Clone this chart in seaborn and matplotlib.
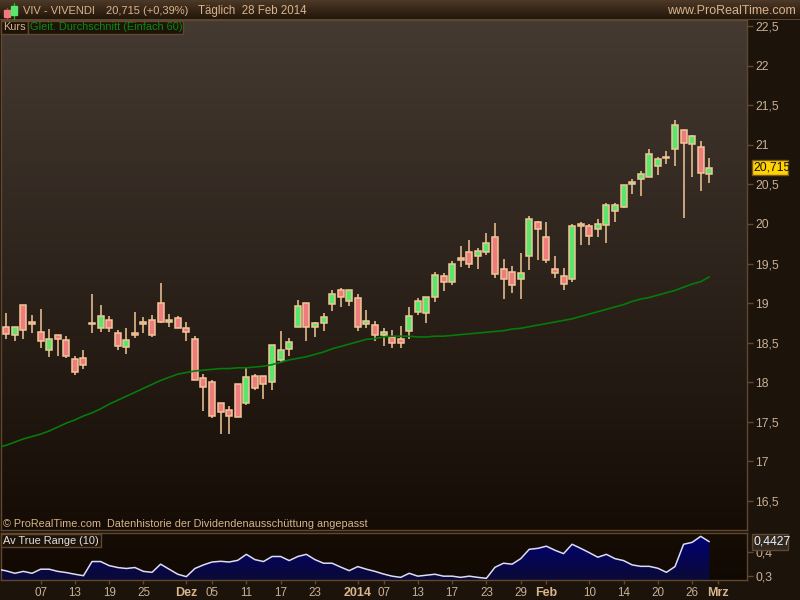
import numpy as np
import pandas as pd
import matplotlib
matplotlib.use('Agg')
import matplotlib.pyplot as plt
import seaborn as sns
from matplotlib.colors import LinearSegmentedColormap
from matplotlib.patches import Rectangle

# prices, one entry per trading day
opens = [18.70, 18.59, 18.98, 18.76, 18.63, 18.40, 18.60, 18.53, 18.29, 18.30,
         18.75, 18.69, 18.79, 18.62, 18.44, 18.62, 18.76, 18.79, 19.00, 18.76,
         18.81, 18.68, 18.55, 18.05, 18.00, 17.74, 17.64, 17.98, 17.74, 18.07,
         18.08, 18.00, 18.28, 18.42, 18.70, 19.00, 18.70, 18.75, 18.99, 19.17,
         19.03, 19.06, 18.74, 18.72, 18.59, 18.57, 18.54, 18.64, 18.88, 18.87,
         19.07, 19.34, 19.27, 19.57, 19.65, 19.59, 19.65, 19.83, 19.43, 19.39,
         19.31, 19.59, 20.02, 19.84, 19.43, 19.34, 19.30, 20.00, 19.98, 19.94,
         19.99, 20.16, 20.22, 20.50, 20.57, 20.60, 20.73, 20.85, 20.95, 21.19,
         21.01, 20.98, 20.63]
highs = [18.87, 18.70, 18.98, 18.85, 18.92, 18.67, 18.60, 18.58, 18.33, 18.41,
         19.11, 18.98, 18.84, 18.66, 18.68, 18.89, 18.82, 18.85, 19.25, 18.86,
         18.84, 18.76, 18.58, 18.10, 18.03, 17.74, 17.70, 17.98, 18.18, 18.10,
         18.08, 18.47, 18.65, 18.56, 19.04, 19.00, 18.76, 18.87, 19.16, 19.19,
         19.16, 19.12, 18.91, 18.77, 18.69, 18.66, 18.71, 18.95, 19.06, 19.07,
         19.39, 19.38, 19.53, 19.72, 19.80, 19.70, 19.88, 20.01, 19.56, 19.47,
         19.63, 20.10, 20.04, 20.02, 19.60, 19.44, 20.00, 20.02, 20.00, 20.06,
         20.26, 20.26, 20.49, 20.57, 20.67, 20.95, 20.85, 20.92, 21.32, 21.19,
         21.13, 21.05, 20.83]
lows = [18.54, 18.52, 18.54, 18.62, 18.43, 18.32, 18.33, 18.30, 18.09, 18.17,
        18.62, 18.63, 18.63, 18.41, 18.36, 18.56, 18.62, 18.57, 18.75, 18.70,
        18.69, 18.52, 18.03, 17.63, 17.54, 17.34, 17.34, 17.56, 17.71, 17.90,
        17.79, 17.90, 18.24, 18.33, 18.70, 18.52, 18.57, 18.65, 18.90, 18.95,
        18.96, 18.65, 18.68, 18.52, 18.46, 18.43, 18.43, 18.54, 18.85, 18.75,
        19.01, 19.15, 19.23, 19.46, 19.44, 19.43, 19.61, 19.32, 19.05, 19.13,
        19.05, 19.42, 19.54, 19.51, 19.32, 19.16, 19.27, 19.73, 19.73, 19.84,
        19.76, 20.03, 20.20, 20.38, 20.35, 20.60, 20.62, 20.76, 20.73, 20.07,
        20.60, 20.42, 20.52]
closes = [18.61, 18.70, 18.66, 18.73, 18.52, 18.55, 18.55, 18.33, 18.13, 18.22,
          18.73, 18.84, 18.68, 18.46, 18.53, 18.60, 18.74, 18.59, 18.76, 18.79,
          18.69, 18.63, 18.03, 17.94, 17.57, 17.62, 17.57, 17.56, 18.06, 17.92,
          17.97, 18.47, 18.41, 18.51, 18.96, 18.70, 18.75, 18.82, 19.12, 19.07,
          19.16, 18.70, 18.77, 18.59, 18.63, 18.50, 18.49, 18.84, 19.02, 19.07,
          19.36, 19.27, 19.50, 19.55, 19.50, 19.66, 19.76, 19.37, 19.31, 19.23,
          19.38, 20.06, 19.94, 19.54, 19.38, 19.24, 19.97, 19.98, 19.85, 20.00,
          20.24, 20.24, 20.49, 20.53, 20.63, 20.89, 20.82, 20.83, 21.25, 21.02,
          21.11, 20.64, 20.715]

# 60 day moving average, starts one bar left of the first candle
ma_60 = [17.17, 17.20, 17.24, 17.28, 17.31, 17.34, 17.38, 17.43, 17.48, 17.52,
         17.57, 17.61, 17.66, 17.72, 17.77, 17.82, 17.87, 17.92, 17.97, 18.02,
         18.06, 18.10, 18.12, 18.14, 18.15, 18.16, 18.17, 18.17, 18.18, 18.18,
         18.19, 18.20, 18.22, 18.25, 18.28, 18.30, 18.32, 18.35, 18.38, 18.42,
         18.45, 18.48, 18.51, 18.54, 18.55, 18.57, 18.58, 18.58, 18.58, 18.57,
         18.57, 18.58, 18.58, 18.59, 18.60, 18.61, 18.62, 18.63, 18.64, 18.65,
         18.67, 18.68, 18.70, 18.72, 18.74, 18.76, 18.78, 18.80, 18.83, 18.86,
         18.89, 18.92, 18.95, 18.98, 19.02, 19.05, 19.07, 19.10, 19.13, 19.16,
         19.20, 19.24, 19.27, 19.33]
# average true range, same bars as ma_60
atr_10 = [0.328, 0.321, 0.311, 0.319, 0.311, 0.328, 0.328, 0.319, 0.314, 0.307,
          0.301, 0.360, 0.360, 0.343, 0.335, 0.331, 0.335, 0.319, 0.315, 0.349,
          0.328, 0.307, 0.297, 0.331, 0.346, 0.358, 0.361, 0.358, 0.365, 0.390,
          0.368, 0.360, 0.381, 0.381, 0.364, 0.381, 0.390, 0.368, 0.353, 0.353,
          0.337, 0.322, 0.339, 0.328, 0.319, 0.308, 0.299, 0.294, 0.311, 0.299,
          0.303, 0.307, 0.299, 0.299, 0.294, 0.299, 0.294, 0.290, 0.336, 0.353,
          0.349, 0.372, 0.411, 0.415, 0.424, 0.407, 0.393, 0.432, 0.415, 0.397,
          0.378, 0.390, 0.372, 0.364, 0.346, 0.340, 0.340, 0.332, 0.315, 0.339,
          0.432, 0.440, 0.465, 0.4427]

price_ticks = [16.5, 17, 17.5, 18, 18.5, 19, 19.5, 20, 20.5, 21, 21.5, 22, 22.5]
atr_ticks = [0.3, 0.4]
date_ticks = [4, 8, 12, 16, 21, 24, 28, 32, 36, 41, 44, 48, 52, 56, 60, 63, 68, 72, 76, 80, 83]
date_labels = ['07', '13', '19', '25', 'Dez', '05', '11', '17', '23', '2014', '07',
               '13', '17', '23', '29', 'Feb', '10', '14', '20', '26', 'Mrz']
bold_labels = ['Dez', '2014', 'Feb', 'Mrz']

W, H = 800, 600
FRAME = '#5f4730'
TXT = '#d9b48c'
AXTXT = '#c9b096'
DARK = '#1c130b'
BODY_EDGE = '#f2c797'
UP = '#58e66c'
DOWN = '#ee7b7d'

sns.set_style('dark')
plt.rcParams['font.family'] = ['Liberation Sans', 'DejaVu Sans']

bars = np.arange(len(closes))
df = pd.DataFrame({'bar': bars, 'open': opens, 'high': highs, 'low': lows, 'close': closes})
lines = pd.DataFrame({'bar': np.arange(len(ma_60)) - 1, 'ma': ma_60, 'atr': atr_10})


def px_axes(fig, x0, y0, x1, y1):
    # pixel box measured from the top left corner
    return fig.add_axes([x0 / W, 1 - y1 / H, (x1 - x0) / W, (y1 - y0) / H])


def gradient(ax, c_top, c_bottom, **kw):
    cmap = LinearSegmentedColormap.from_list('g', [c_top, c_bottom])
    return ax.imshow(np.linspace(0, 1, 256).reshape(-1, 1), cmap=cmap, aspect='auto',
                     extent=(0, 1, 0, 1), transform=ax.transAxes, zorder=0, **kw)


def style_panel(ax):
    for s in ax.spines.values():
        s.set_color(FRAME)
        s.set_linewidth(1)
    ax.yaxis.tick_right()
    ax.tick_params(axis='y', colors=FRAME, length=4, width=1, pad=2, labelcolor=AXTXT,
                   labelsize=8.8, right=True, left=False)


def label_box(fig, x0, y0, x1, y1, s, color, face='#1e1309', edge=FRAME, size=7.9, pad=2):
    fig.patches.append(Rectangle((x0 / W, 1 - y1 / H), (x1 - x0) / W, (y1 - y0) / H,
                                 transform=fig.transFigure, facecolor=face, edgecolor=edge,
                                 linewidth=1, zorder=5))
    fig.text((x0 + pad) / W, 1 - (y0 + y1) / 2 / H, s, color=color, fontsize=size,
             va='center', ha='left', zorder=6)


fig = plt.figure(figsize=(W / 100, H / 100), dpi=100, facecolor=DARK)

# title strip
head = px_axes(fig, 0, 0, W, 20)
gradient(head, '#4d3927', '#1f1308')
head.set_axis_off()
head.axhline(0, color=FRAME, lw=1.5)

# bar position -> pixel is 6.3 + 8.573 * bar
xlim = ((1 - 6.3) / 8.573, (747 - 6.3) / 8.573)

ax = px_axes(fig, 1, 20, 747, 530)
gradient(ax, '#443a32', '#150c05')

up = df[df['close'] > df['open']]
down = df[df['close'] <= df['open']]
ax.vlines(df['bar'], df['low'], df['high'], color=BODY_EDGE, lw=1.1, zorder=2)
for part, col in ((up, UP), (down, DOWN)):
    low_edge = part[['open', 'close']].min(axis=1)
    height = (part['close'] - part['open']).abs().clip(lower=0.015)
    ax.bar(part['bar'], height, bottom=low_edge, width=0.7, color=col,
           edgecolor=BODY_EDGE, linewidth=1.1, zorder=3)

sns.lineplot(data=lines, x='bar', y='ma', ax=ax, color='#067a0a', lw=1.2, zorder=4)

ax.set_xlim(xlim)
ax.set_ylim(16.127, 22.582)
ax.set_yticks(price_ticks)
ax.set_yticklabels([f'{t:g}'.replace('.', ',') for t in price_ticks])
ax.set_xticks([])
ax.set_xlabel('')
ax.set_ylabel('')
ax.grid(False)
style_panel(ax)

# lower panel
ax2 = px_axes(fig, 1, 533, 747, 580)
gradient(ax2, '#160d05', '#100802')
sns.lineplot(data=lines, x='bar', y='atr', ax=ax2, color='#dcdcf2', lw=1.1, zorder=4)
ax2.set_xlim(xlim)
ax2.set_ylim(0.283, 0.479)
area = ax2.fill_between(lines['bar'], lines['atr'], 0.283, color='none')
fill = gradient(ax2, '#00007a', '#0b0a35')
fill.set_zorder(2)
fill.set_clip_path(area.get_paths()[0], ax2.transData)
ax2.set_yticks(atr_ticks)
ax2.set_yticklabels([f'{t:g}'.replace('.', ',') for t in atr_ticks])
ax2.set_xticks(date_ticks)
ax2.set_xticklabels(date_labels)
ax2.tick_params(axis='x', colors=FRAME, length=3, width=1, pad=2, labelcolor=AXTXT, labelsize=8.4,
                bottom=True)
for t in ax2.get_xticklabels():
    if t.get_text() in bold_labels:
        t.set_fontweight('bold')
        t.set_color(TXT)
        t.set_fontsize(9)
ax2.set_xlabel('')
ax2.set_ylabel('')
ax2.grid(False)
style_panel(ax2)

# header texts
fig.text(23 / W, 1 - 11 / H, 'VIV - VIVENDI', color=TXT, fontsize=8, va='center', zorder=6)
fig.text(106 / W, 1 - 11 / H, '20,715 (+0,39%)', color=TXT, fontsize=8, va='center', zorder=6)
fig.text(198 / W, 1 - 11 / H, 'Täglich  28 Feb 2014', color=TXT, fontsize=8.3, va='center', zorder=6)
fig.text(796 / W, 1 - 11 / H, 'www.ProRealTime.com', color=TXT, fontsize=9, va='center', ha='right', zorder=6)

# little candle icon next to the name
for x0, y0, x1, y1, col in ((4, 10, 10, 17, DOWN), (11, 6, 17, 15, UP)):
    fig.patches.append(Rectangle((x0 / W, 1 - y1 / H), (x1 - x0) / W, (y1 - y0) / H,
                                 transform=fig.transFigure, facecolor=col, edgecolor=col, zorder=6))
fig.add_artist(plt.Line2D([7 / W, 7 / W], [1 - 8 / H, 1 - 19 / H], color='#c03030', lw=1, zorder=5))
fig.add_artist(plt.Line2D([14 / W, 14 / W], [1 - 3 / H, 1 - 19 / H], color='#20b030', lw=1, zorder=5))

label_box(fig, 1, 21, 28, 34, 'Kurs', TXT)
label_box(fig, 28, 21, 183, 34, 'Gleit. Durchschnitt (Einfach 60)', '#0a8a10')
label_box(fig, 1, 534, 101, 547, 'Av True Range (10)', '#e4e0dc')

fig.text(3 / W, 1 - 524 / H, '© ProRealTime.com  Datenhistorie der Dividendenausschüttung angepasst',
         color=TXT, fontsize=7.8, va='center', zorder=6)

label_box(fig, 752, 160, 788, 175, '20,715', '#111111', face='#ffd200', edge='#7a5a20', size=8.8, pad=1)
label_box(fig, 752, 534, 788, 550, '0,4427', '#e8f0ff', face='#32281e', edge=FRAME, size=8.8, pad=2)

fig.savefig('out.png', dpi=100, facecolor=fig.get_facecolor())
